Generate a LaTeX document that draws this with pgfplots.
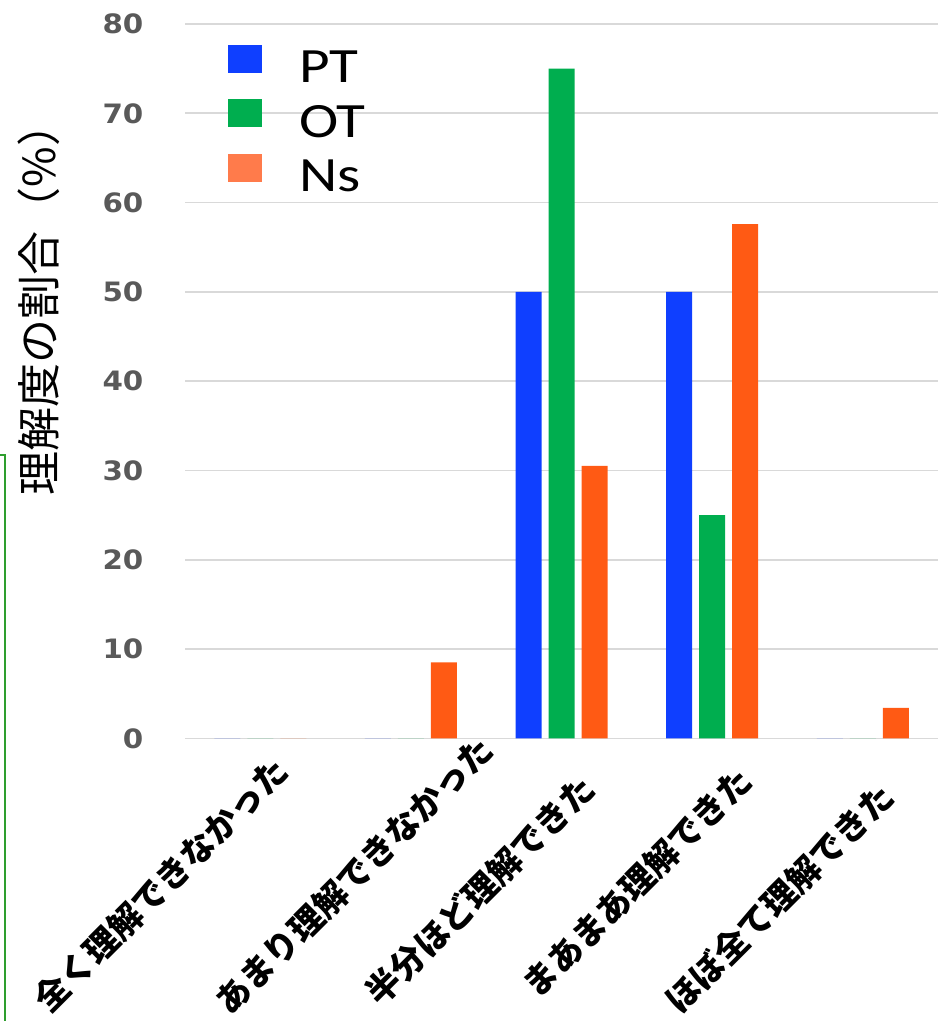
\documentclass[border=0pt]{standalone}
\usepackage{pgfplots}
\pgfplotsset{compat=1.18}
\usepackage{fontspec}
\newfontfamily\cjk{Noto Sans CJK JP}
\newfontfamily\deja{DejaVu Sans}
\newfontfamily\carl{Carlito}
\definecolor{cPT}{HTML}{0F3FFF}
\definecolor{cOT}{HTML}{00AE4F}
\definecolor{cNs}{HTML}{FF5A14}
\definecolor{cNsL}{HTML}{FF7B4B}
\definecolor{grd}{HTML}{D9D9D9}
\definecolor{tck}{HTML}{595959}
\definecolor{frame}{HTML}{2E9E2E}
\begin{document}
\begin{tikzpicture}[xlab/.style={rotate=45, anchor=center, inner sep=0pt, font=\cjk\bfseries\fontsize{25.5}{25.5}\selectfont}]
\useasboundingbox (-138.75pt,-212pt) rectangle (564.75pt,553.7pt);
\draw[frame, line width=1.1pt] (-138.75pt,212.5pt) -- (-135pt,212.5pt) -- (-135pt,-215pt);
\begin{axis}[
  at={(0pt,0pt)}, anchor=south west,
  scale only axis, width=564.75pt, height=535.7pt,
  ybar=5.25pt, bar width=19.5pt,
  xmin=-0.5, xmax=4.5, ymin=0, ymax=80,
  xtick={0,1,2,3,4},
  xticklabels={},
  ytick={0,10,...,80},
  axis line style={draw=none},
  major tick length=0pt,
  clip=false,
  ymajorgrids, grid style={grd, line width=1.2pt},
  /pgf/number format/assume math mode=true,
  yticklabel style={font=\deja\bfseries\fontsize{20}{20}\selectfont, text=tck, anchor=east, inner sep=0pt, xshift=-31pt, xscale=1.1},
  ylabel={理解度の割合（\%）},
  ylabel style={at={(axis description cs:-0.1939,0.615)}, anchor=center, font=\cjk\fontsize{33}{33}\selectfont},
  legend style={at={(axis description cs:0.0571,0.9705)}, anchor=north west, draw=none, fill=none, inner sep=0pt, outer sep=0pt, row sep=0pt,
    font=\carl\fontsize{37}{37}\selectfont,
    nodes={inner sep=0pt, text height=28pt, text depth=12.5pt, xscale=1.2},
    /tikz/every odd column/.style={column sep=28pt}},
  legend cell align=left,
]
\addplot[fill=cPT, draw=none, legend image code/.code={\fill[cPT] (0pt,-0.5pt) rectangle (25.5pt,20.5pt);}]
  coordinates {(0,0) (1,0) (2,50) (3,50) (4,0)};
\addlegendentry{PT}
\addplot[fill=cOT, draw=none, legend image code/.code={\fill[cOT] (0pt,-0.5pt) rectangle (25.5pt,20.5pt);}]
  coordinates {(0,0) (1,0) (2,75) (3,25) (4,0)};
\addlegendentry{OT}
\addplot[fill=cNs, draw=none, legend image code/.code={\fill[cNsL] (0pt,-0.5pt) rectangle (25.5pt,20.5pt);}]
  coordinates {(0,0) (1,8.5) (2,30.5) (3,57.6) (4,3.4)};
\addlegendentry{Ns}
\node[xlab] at (axis description cs:-0.0319,-0.2053) {全く理解できなかった};
\node[xlab] at (axis description cs:0.2244,-0.1921) {あまり理解できなかった};
\node[xlab] at (axis description cs:0.3918,-0.2132) {半分ほど理解できた};
\node[xlab] at (axis description cs:0.6003,-0.2013) {まあまあ理解できた};
\node[xlab] at (axis description cs:0.7895,-0.2244) {ほぼ全て理解できた};
\end{axis}
\end{tikzpicture}
\end{document}
